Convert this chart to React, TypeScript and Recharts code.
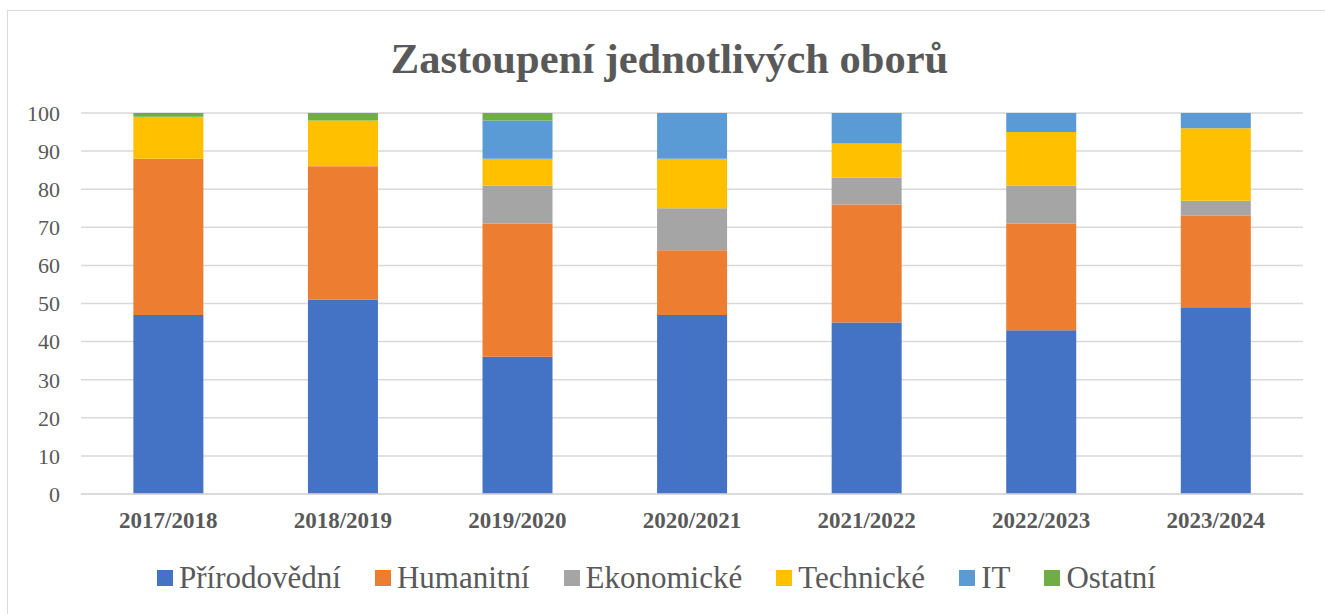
import React from 'react';
import { BarChart, Bar, XAxis, YAxis, CartesianGrid, Legend } from 'recharts';

const years = ['2017/2018', '2018/2019', '2019/2020', '2020/2021', '2021/2022', '2022/2023', '2023/2024'];
const prirodovedni = [47, 51, 36, 47, 45, 43, 49];
const humanitni = [41, 35, 35, 17, 31, 28, 24];
const ekonomicke = [0, 0, 10, 11, 7, 10, 4];
const technicke = [11, 12, 7, 13, 9, 14, 19];
const it = [0, 0, 10, 12, 8, 5, 4];
const ostatni = [1, 2, 2, 0, 0, 0, 0];
const yTicks = [0, 10, 20, 30, 40, 50, 60, 70, 80, 90, 100];

const series = [
  { key: 'prirodovedni', name: 'Přírodovědní', color: '#4472C4', values: prirodovedni },
  { key: 'humanitni', name: 'Humanitní', color: '#ED7D31', values: humanitni },
  { key: 'ekonomicke', name: 'Ekonomické', color: '#A5A5A5', values: ekonomicke },
  { key: 'technicke', name: 'Technické', color: '#FFC000', values: technicke },
  { key: 'it', name: 'IT', color: '#5B9BD5', values: it },
  { key: 'ostatni', name: 'Ostatní', color: '#70AD47', values: ostatni },
];

const data = years.map((year, i) => {
  const row: Record<string, string | number> = { year };
  series.forEach((s) => {
    row[s.key] = s.values[i];
  });
  return row;
});

const textColor = '#595959';
const gridColor = '#d9d9d9';
const font = "'Liberation Serif', 'Times New Roman', serif";

// legend keeps the series order, not the alphabetical payload order
const renderLegend = () => (
  <div
    style={{
      display: 'flex',
      justifyContent: 'center',
      alignItems: 'center',
      gap: 34,
      height: 40,
      paddingRight: 12,
      fontFamily: font,
      fontSize: 31,
      color: textColor,
    }}
  >
    {series.map((s) => (
      <div key={s.key} style={{ display: 'flex', alignItems: 'center' }}>
        <span style={{ width: 16, height: 16, background: s.color, marginRight: 6, display: 'inline-block' }} />
        <span style={{ lineHeight: '40px' }}>{s.name}</span>
      </div>
    ))}
  </div>
);

export default function App() {
  return (
    <div style={{ position: 'absolute', left: 0, top: 0, width: 1325, height: 614, overflow: 'hidden', background: '#fff' }}>
      <div
        style={{
          position: 'absolute',
          left: 7,
          top: 10,
          width: 1340,
          height: 640,
          border: `1.5px solid ${gridColor}`,
          boxSizing: 'border-box',
        }}
      />
      <div
        style={{
          position: 'absolute',
          left: 7,
          top: 34,
          width: 1325,
          textAlign: 'center',
          fontFamily: font,
          fontWeight: 'bold',
          fontSize: 42.5,
          color: textColor,
          lineHeight: '50px',
        }}
      >
        Zastoupení jednotlivých oborů
      </div>
      <div style={{ position: 'absolute', left: 0, top: 0 }}>
        <BarChart
          width={1325}
          height={614}
          data={data}
          margin={{ top: 113, right: 22, left: 0, bottom: 90 }}
          barCategoryGap="30%"
        >
          <CartesianGrid vertical={false} stroke={gridColor} strokeWidth={1.5} />
          <XAxis
            dataKey="year"
            height={30}
            axisLine={{ stroke: gridColor, strokeWidth: 1.5 }}
            tickLine={false}
            tickSize={0}
            tickMargin={18}
            tick={{ fill: textColor, fontSize: 23, fontWeight: 'bold', fontFamily: font }}
          />
          <YAxis
            width={81}
            domain={[0, 100]}
            ticks={yTicks}
            axisLine={false}
            tickLine={false}
            tickSize={0}
            tickMargin={21}
            interval={0}
            tick={{ fill: textColor, fontSize: 22, fontFamily: font }}
          />
          <Legend
            layout="horizontal"
            verticalAlign="middle"
            align="center"
            content={renderLegend}
            wrapperStyle={{ top: 558, left: 0, width: 1325 }}
          />
          {series.map((s) => (
            <Bar
              key={s.key}
              dataKey={s.key}
              name={s.name}
              stackId="a"
              fill={s.color}
              isAnimationActive={false}
            />
          ))}
        </BarChart>
      </div>
    </div>
  );
}
